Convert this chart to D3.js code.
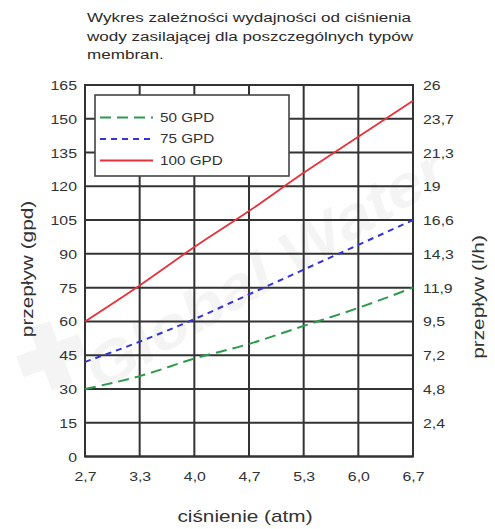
<!DOCTYPE html>
<html><head><meta charset="utf-8">
<script src="https://cdn.jsdelivr.net/npm/d3@7"></script>
<style>
body{margin:0;background:#fff}
svg{display:block}
text{font-family:"Liberation Sans",Arial,Helvetica,sans-serif;fill:#333}
</style></head>
<body>
<svg id="chart" width="495" height="529"></svg>
<script>
// ---- data ----
const titleLines = ["Wykres zależności wydajności od ciśnienia", "wody zasilającej dla poszczególnych typów", "membran."];
const pressureLabels = ["2,7", "3,3", "4,0", "4,7", "5,3", "6,0", "6,7"];
const seriesNames = ["50 GPD", "75 GPD", "100 GPD"];
const flow50 = [30, 35.7, 43.5, 50, 58, 66, 75];
const flow75 = [42, 51, 61, 72, 83, 94, 105];
const flow100 = [60, 76, 93, 109, 126, 142, 158];
const gpdTicks = [0, 15, 30, 45, 60, 75, 90, 105, 120, 135, 150, 165];
const lhTicks = [15, 30, 45, 60, 75, 90, 105, 120, 135, 150, 165];
const lhLabels = ["2,4", "4,8", "7,2", "9,5", "11,9", "14,3", "16,6", "19", "21,3", "23,7", "26"];
const xTitle = "ciśnienie (atm)";
const yTitleLeft = "przepływ (gpd)";
const yTitleRight = "przepływ (l/h)";

// ---- layout ----
const SX = 1.22;
const L = 85, R = 413, T = 85, B = 456.5;
const svg = d3.select("#chart");

const x = d3.scalePoint().domain(pressureLabels).range([L, R]);
const y = d3.scaleLinear().domain([0, 165]).range([B, T]);

// watermark
svg.append("path")
  .attr("d", "M18,345 h22 v-22 h22 v22 h22 v22 h-22 v22 h-22 v-22 h-22 z")
  .attr("transform", "rotate(-20,50,356)")
  .attr("fill", "#f4f4f4");
svg.append("text")
  .attr("transform", "translate(100,392) rotate(-31) scale(1.15,1)")
  .style("font-size", "58px").style("font-weight", "bold").style("font-style", "italic")
  .style("fill", "#f4f4f4")
  .text("Global Water");

// title
const tt = svg.append("g");
titleLines.forEach((s, i) => {
  tt.append("text")
    .attr("transform", `translate(87,${22 + i * 18.5}) scale(1.265,1)`)
    .style("font-size", "13.5px").style("fill", "#2a2a2a")
    .text(s);
});

// grid
const grid = svg.append("g").attr("stroke", "#333").attr("stroke-width", 2);
grid.selectAll("line.h").data(gpdTicks).join("line")
  .attr("x1", L).attr("x2", R).attr("y1", d => y(d)).attr("y2", d => y(d));
grid.selectAll("line.v").data(pressureLabels).join("line")
  .attr("x1", d => x(d)).attr("x2", d => x(d)).attr("y1", T).attr("y2", B);
svg.append("rect").attr("x", L).attr("y", T).attr("width", R - L).attr("height", B - T)
  .attr("fill", "none").attr("stroke", "#333").attr("stroke-width", 2);

// axes (labels only)
const yl = svg.append("g").attr("transform", `translate(${L},0)`)
  .call(d3.axisLeft(y).tickValues(gpdTicks).tickSize(0).tickPadding(0).tickFormat(d3.format("d")));
yl.select(".domain").remove();
yl.selectAll("text").attr("x", null).attr("dy", "0.35em")
  .attr("transform", `translate(-8,0) scale(${SX},1)`)
  .style("font-size", "13px").style("font-family", null);

const yr = svg.append("g").attr("transform", `translate(${R},0)`)
  .call(d3.axisRight(y).tickValues(lhTicks).tickSize(0).tickPadding(0)
    .tickFormat(d => lhLabels[lhTicks.indexOf(d)]));
yr.select(".domain").remove();
yr.selectAll("text").attr("x", null).attr("dy", "0.35em")
  .attr("transform", `translate(10,0) scale(${SX},1)`)
  .style("font-size", "13px").style("font-family", null);

const xa = svg.append("g").attr("transform", `translate(0,${B})`)
  .call(d3.axisBottom(x).tickSize(0).tickPadding(0));
xa.select(".domain").remove();
xa.selectAll("text").attr("y", null).attr("dy", null)
  .attr("transform", `translate(0,24.5) scale(${SX},1)`)
  .style("font-size", "13px").style("font-family", null);

// axis titles
svg.append("text").attr("text-anchor", "middle")
  .attr("transform", `translate(245,522) scale(${SX + 0.08},1)`)
  .style("font-size", "16px").text(xTitle);
svg.append("text").attr("text-anchor", "middle")
  .attr("transform", `translate(33,269) rotate(-90) scale(${SX + 0.08},1)`)
  .style("font-size", "16px").text(yTitleLeft);
svg.append("text").attr("text-anchor", "middle")
  .attr("transform", `translate(484,297) rotate(-90) scale(${SX + 0.08},1)`)
  .style("font-size", "16px").text(yTitleRight);

// series
const series = [
  {name: seriesNames[0], values: flow50, color: "#2f9a4c", dash: "11,6", width: 2},
  {name: seriesNames[1], values: flow75, color: "#3434d8", dash: "6,5", width: 2},
  {name: seriesNames[2], values: flow100, color: "#e8313b", dash: null, width: 1.8}
];
const line = d3.line().x((d, i) => x(pressureLabels[i])).y(d => y(d)).curve(d3.curveMonotoneX);
series.forEach(s => {
  svg.append("path").datum(s.values).attr("d", line)
    .attr("fill", "none").attr("stroke", s.color).attr("stroke-width", s.width)
    .attr("stroke-dasharray", s.dash);
});

// legend
const lg = svg.append("g");
lg.append("rect").attr("x", 95).attr("y", 95).attr("width", 194).attr("height", 81)
  .attr("fill", "#fff").attr("stroke", "#444").attr("stroke-width", 1.6);
series.forEach((s, i) => {
  const yy = 117.5 + i * 21.5;
  lg.append("line").attr("x1", 100).attr("x2", 153).attr("y1", yy).attr("y2", yy)
    .attr("stroke", s.color).attr("stroke-width", s.width).attr("stroke-dasharray", s.dash);
  lg.append("text").attr("transform", `translate(160,${yy}) scale(${SX},1)`)
    .attr("dy", "0.35em").style("font-size", "12.5px").text(s.name);
});
</script>
</body></html>
